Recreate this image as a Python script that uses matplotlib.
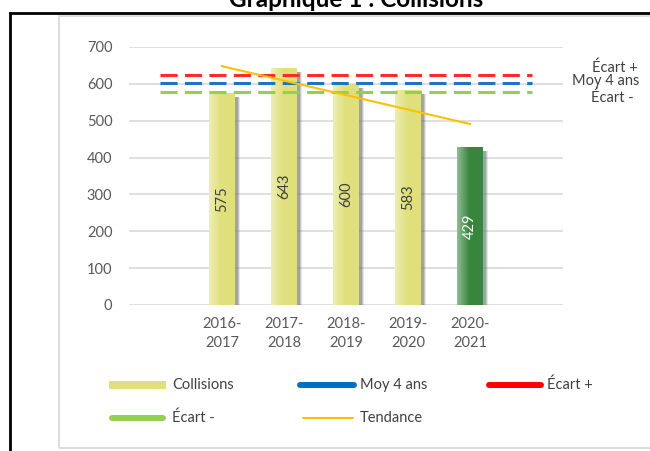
import matplotlib
matplotlib.use('Agg')
import matplotlib.pyplot as plt
import numpy as np
from matplotlib.lines import Line2D
from matplotlib.patches import Rectangle

# ---------------- data ----------------
categories = ['2016-\n2017', '2017-\n2018', '2018-\n2019', '2019-\n2020', '2020-\n2021']
collisions = [575, 643, 600, 583, 429]
moy_4_ans = 601
ecart_plus = 625
ecart_moins = 578
tendance = [648, 491]          # trend line: value at first and last year
y_ticks = [0, 100, 200, 300, 400, 500, 600, 700]

plt.rcParams['font.family'] = ['Lato', 'DejaVu Sans']

W, H = 650, 451
fig = plt.figure(figsize=(6.5, 4.51), dpi=100)
fig.patch.set_facecolor('white')


def fx(px):
    return px / W


def fy(py):
    return 1 - py / H


# outer black frame and grey chart border
fig.add_artist(Line2D([fx(10), fx(10)], [fy(13), 0], transform=fig.transFigure, color='black', lw=2))
fig.add_artist(Line2D([fx(10), 1], [fy(13), fy(13)], transform=fig.transFigure, color='black', lw=2))
fig.add_artist(Rectangle((fx(59), fy(448)), 1.0, fy(16) - fy(448), transform=fig.transFigure,
                         fill=False, edgecolor='#D9D9D9', lw=1.3))

# title (mostly cut off at the top)
fig.text(fx(356), fy(7), 'Graphique 1 : Collisions', ha='center', va='baseline',
         fontsize=17.5, fontweight='bold', color='black')

ax = fig.add_axes([fx(129), fy(305), fx(563) - fx(129), fy(47) - fy(305)])
ax.set_xlim(-0.5, 6.5)
ax.set_ylim(0, 700)
for s in ax.spines.values():
    s.set_visible(False)
ax.set_yticks(y_ticks)
ax.yaxis.grid(True, color='#D9D9D9', lw=1.2)
ax.set_axisbelow(True)

slots = np.arange(1, len(categories) + 1)
bar_w = 0.42
px_x = 7.0 / (563 - 129)
px_y = 700.0 / (305 - 47)
colors = ['#DFE07B'] * 4 + ['#38863E']
label_colors = ['#404040'] * 4 + ['white']

for x, v, c, lc in zip(slots, collisions, colors, label_colors):
    # soft shadow on the right
    for k, a in [(5, 0.18), (4, 0.3), (3, 0.45)]:
        ax.add_patch(Rectangle((x - bar_w / 2 + k * px_x, 0), bar_w, v - 4 * px_y,
                               facecolor='#7a7a7a', alpha=a, zorder=1.5, lw=0))
    bar = ax.bar(x, v, width=bar_w, color=c, zorder=2, lw=0)[0]
    # light gradient on left side of the bar
    grad = np.zeros((1, 60, 4))
    grad[..., :3] = 1.0
    grad[0, :, 3] = np.clip(0.45 * (1 - np.linspace(0, 1, 60) / 0.45), 0, 1)
    im = ax.imshow(grad, extent=[x - bar_w / 2, x + bar_w / 2, 0, v], aspect='auto',
                   zorder=2.1, interpolation='bilinear')
    im.set_clip_path(bar)
    ax.text(x, v / 2, str(v), rotation=90, ha='center', va='center', fontsize=10.5,
            color=lc, zorder=3)

# reference lines
line_x = [0, 6]
dash = (5.6, 2.4)
for val, col in [(ecart_plus, '#FF2A2A'), (moy_4_ans, '#1F73C4'), (ecart_moins, '#92D050')]:
    ax.plot(line_x, [val, val], color=col, lw=2.2, dashes=dash, zorder=4)

# trend
ax.plot([slots[0], slots[-1]], tendance, color='#FFC000', lw=1.5, zorder=5)

# end labels
ax.annotate('Écart +', (6, ecart_plus), xytext=(76, 5), textcoords='offset points',
            ha='right', va='center', fontsize=10.5, color='#404040')
ax.annotate('Moy 4 ans', (6, moy_4_ans), xytext=(77.5, 2), textcoords='offset points',
            ha='right', va='center', fontsize=10.5, color='#404040')
ax.annotate('Écart -', (6, ecart_moins), xytext=(73, -4), textcoords='offset points',
            ha='right', va='center', fontsize=10.5, color='#404040')

ax.set_xticks(slots)
ax.set_xticklabels(categories)
ax.tick_params(axis='both', length=0, labelsize=10.5, colors='#595959')
ax.tick_params(axis='y', pad=12)
ax.tick_params(axis='x', pad=9)
for t in ax.get_xticklabels():
    t.set_linespacing(1.4)

# legend (drawn manually to match the original layout)
legend_entries = [
    ('Collisions', 'patch', '#DFE07B', 8, 109, 166, 172, 385),
    ('Moy 4 ans', 'line', '#0070C0', 4.3, 297, 357, 360, 385),
    ('Écart +', 'line', '#FF0000', 4.3, 486, 544, 547, 385),
    ('Écart -', 'line', '#92D050', 4.3, 109, 166, 172, 418),
    ('Tendance', 'line', '#FFC000', 1.5, 300, 356, 360, 418),
]
for label, kind, col, lw, x0, x1, tx, y in legend_entries:
    if kind == 'patch':
        fig.add_artist(Rectangle((fx(x0), fy(y + lw / 2)), fx(x1) - fx(x0), lw / H,
                                 transform=fig.transFigure, facecolor=col, lw=0))
    else:
        fig.add_artist(Line2D([fx(x0 + 3), fx(x1 - 3)], [fy(y), fy(y)], transform=fig.transFigure,
                              color=col, lw=lw, solid_capstyle='round'))
    fig.text(fx(tx), fy(y), label, ha='left', va='center', fontsize=10.5, color='#404040')

fig.savefig('out.png', dpi=100, facecolor='white')
